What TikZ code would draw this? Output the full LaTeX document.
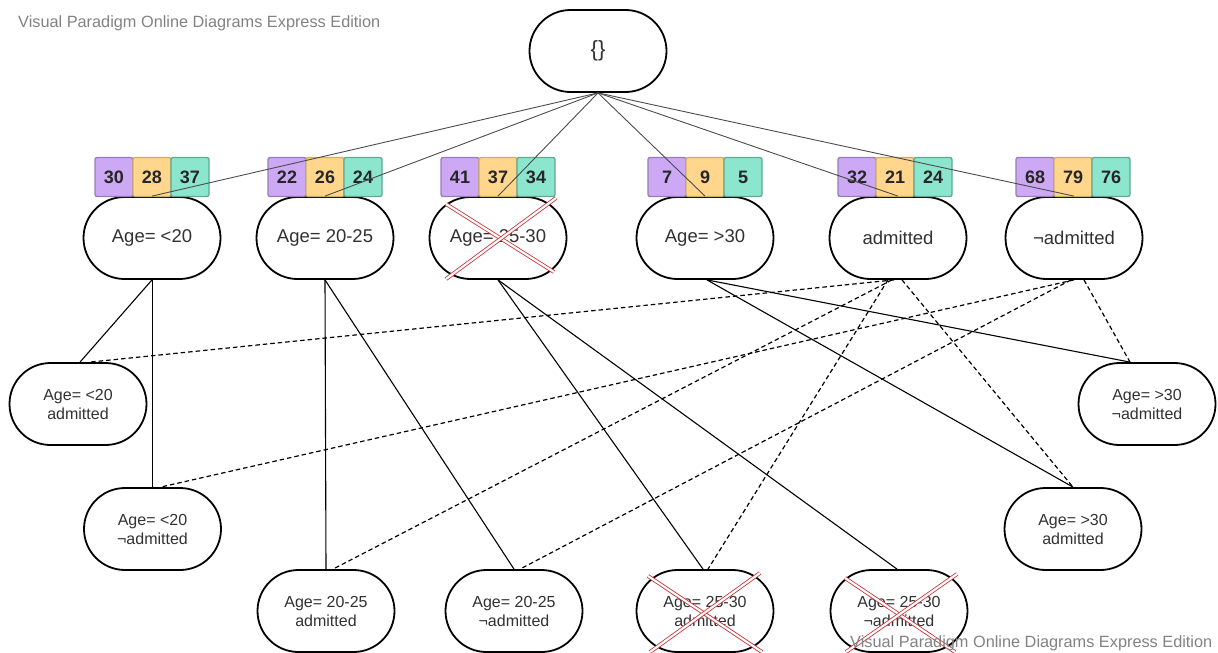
\documentclass[tikz,border=0pt]{standalone}
\usepackage{fontspec}
\setmainfont{Liberation Sans}
\usetikzlibrary{shapes.misc}
\definecolor{pfill}{RGB}{204,168,245}
\definecolor{pdraw}{RGB}{150,125,185}
\definecolor{yfill}{RGB}{255,214,140}
\definecolor{ydraw}{RGB}{205,175,100}
\definecolor{tfill}{RGB}{140,230,205}
\definecolor{tdraw}{RGB}{95,170,145}
\definecolor{xred}{RGB}{205,45,50}
\definecolor{wm}{RGB}{130,130,130}
\definecolor{txt}{RGB}{50,50,50}
\tikzset{
  stad/.style={rounded rectangle, draw=black, line width=1.8pt, fill=white,
    minimum width=137pt, minimum height=82pt, inner sep=0pt, align=center,
    font=\fontsize{18.5}{21}\selectfont, text=txt},
  stadsm/.style={stad, font=\fontsize{16}{19}\selectfont},
  cnt/.style={draw, line width=1.3pt, rounded corners=2pt, minimum width=38pt,
    minimum height=39pt, inner sep=0pt, font=\bfseries\fontsize{18}{20}\selectfont, text=black!85},
  cp/.style={cnt, fill=pfill, draw=pdraw},
  cy/.style={cnt, fill=yfill, draw=ydraw},
  ct/.style={cnt, fill=tfill, draw=tdraw},
  topline/.style={draw=black!70, line width=0.9pt},
  sol/.style={draw=black, line width=1.1pt},
  dsh/.style={draw=black, line width=1.2pt, dash pattern=on 4.5pt off 3pt},
  cross/.style={draw=xred, double=white, line width=0.8pt, double distance=2.2pt},
  wmark/.style={text=wm, font=\fontsize{16.3}{18}\selectfont, inner sep=0pt, anchor=west}
}
\begin{document}
\begin{tikzpicture}[x=1pt,y=-1pt]
\useasboundingbox (0,0) rectangle (1218,653);
\node[wmark] (wm1) at (18,23) {Visual Paradigm Online Diagrams Express Edition};

% top node
\node[stad, font=\fontsize{22}{24}\selectfont] (root) at (598,51) {\{\}};

% row 1 nodes
\node[stad] (a1) at (152,238) {Age= <20};
\node[stad] (a2) at (325,238) {Age= 20-25};
\node[stad] (a3) at (498,238) {Age= 25-30};
\node[stad] (a4) at (705,238) {Age= >30};
\node[stad] (ad) at (898,238) {admitted};
\node[stad] (na) at (1074,238) {\textlnot admitted};

% count boxes
\foreach \n/\x/\p/\yv/\t in {1/152/30/28/37, 2/325/22/26/24, 3/498/41/37/34, 4/705/7/9/5, 5/895/32/21/24, 6/1073/68/79/76}{
  \node[cp] (cp\n) at (\x-38,177) {\p};
  \node[cy] (cy\n) at (\x,177) {\yv};
  \node[ct] (ct\n) at (\x+38,177) {\t};
}

% lines from root
\foreach \t in {a1,a2,a3,a4,ad,na}{
  \draw[topline] (root.south) -- (\t.north);
}

% row 2 / row 3 nodes
\node[stadsm] (b1) at (78,404) {Age= <20\\admitted};
\node[stadsm] (b2) at (152.5,529) {Age= <20\\\textlnot admitted};
\node[stadsm] (b3) at (1147,404) {Age= >30\\\textlnot admitted};
\node[stadsm] (b4) at (1073,529) {Age= >30\\admitted};
\node[stadsm] (c1) at (326,611) {Age= 20-25\\admitted};
\node[stadsm] (c2) at (514,611) {Age= 20-25\\\textlnot admitted};
\node[stadsm] (c3) at (705,611) {Age= 25-30\\admitted};
\node[stadsm] (c4) at (899,611) {Age= 25-30\\\textlnot admitted};

% solid connectors
\draw[sol] (a1.south) -- ([xshift=2pt]b1.north);
\draw[sol] ([xshift=0.5pt]a1.south) -- (b2.north);
\draw[sol] (a2.south) -- (c1.north);
\draw[sol] (a2.south) -- (c2.north);
\draw[sol] (a3.south) -- ([xshift=-2pt]c3.north);
\draw[sol] (a3.south) -- ([xshift=-2pt]c4.north);
\draw[sol] ([xshift=2pt]a4.south) -- ([xshift=-17pt]b3.north);
\draw[sol] ([xshift=2pt]a4.south) -- (b4.north);

% dashed connectors
\draw[dsh] ([xshift=-4pt]ad.south) -- ([xshift=12pt]b1.north);
\draw[dsh] ([xshift=-6pt]ad.south) -- ([xshift=7pt]c1.north);
\draw[dsh] ([xshift=-10pt]ad.south) -- ([xshift=3pt]c3.north);
\draw[dsh] ([xshift=4pt]ad.south) -- (b4.north);
\draw[dsh] (na.south) -- ([xshift=8pt]b2.north);
\draw[dsh] ([xshift=-3pt]na.south) -- ([xshift=6pt]c2.north);
\draw[dsh] ([xshift=10pt]na.south) -- ([xshift=-17pt]b3.north);

% red crosses
\draw[cross] (446,204) -- (554,272);
\draw[cross] (446,279) -- (556,198);
\draw[cross] (648,576) -- (762,652);
\draw[cross] (650,652) -- (760,573);
\draw[cross] (845,578) -- (955,652);
\draw[cross] (846,652) -- (957,574);

\node[wmark] (wm2) at (850,643) {Visual Paradigm Online Diagrams Express Edition};
\end{tikzpicture}
\end{document}
